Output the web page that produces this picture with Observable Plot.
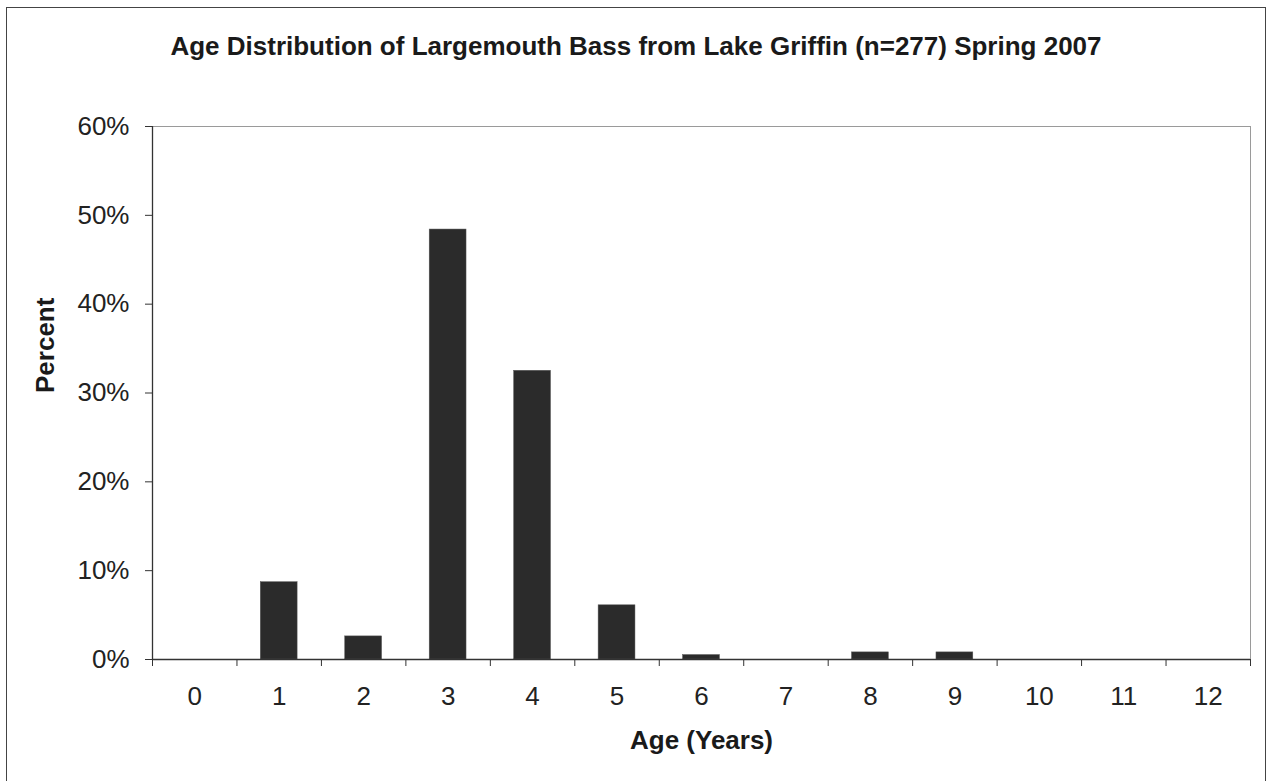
<!DOCTYPE html>
<html>
<head>
<meta charset="utf-8">
<script src="https://cdn.jsdelivr.net/npm/d3@7"></script>
<script src="https://cdn.jsdelivr.net/npm/@observablehq/plot@0.6"></script>
<style>
  html, body { margin: 0; padding: 0; background: #fff; }
  #wrap { position: relative; width: 1268px; height: 781px; overflow: hidden; font-family: "Liberation Sans", Arial, sans-serif; }
  #border { position: absolute; left: 6px; top: 7px; width: 1260px; height: 800px; border: 1px solid #444; box-sizing: border-box; }
  #title { position: absolute; left: 0; width: 1272px; top: 31px; line-height: 30px; text-align: center; font-weight: bold; font-size: 26px; color: #1a1a1a; white-space: nowrap; }
  #chart { position: absolute; left: 0; top: 0; }
</style>
</head>
<body>
<div id="wrap">
  <div id="border"></div>
  <div id="title">Age Distribution of Largemouth Bass from Lake Griffin (n=277) Spring 2007</div>
  <div id="chart"></div>
</div>
<script>
const ages = [0, 1, 2, 3, 4, 5, 6, 7, 8, 9, 10, 11, 12];
const percents = [0, 8.7, 2.6, 48.4, 32.5, 6.1, 0.5, 0, 0.8, 0.8, 0, 0, 0];
const yTicks = [0, 10, 20, 30, 40, 50, 60];
const xTitle = "Age (Years)";
const yTitle = "Percent";

const data = ages.map((a, i) => ({age: a, pct: percents[i] / 100}));
const boundaries = [ages[0] - 0.5, ...ages.map(a => a + 0.5)];
const halfBar = 0.218;

const plot = Plot.plot({
  width: 1268,
  height: 781,
  marginLeft: 152,
  marginRight: 18,
  marginTop: 126,
  marginBottom: 122,
  style: {fontFamily: "Liberation Sans, Arial, sans-serif", background: "transparent", color: "#222"},
  x: {type: "linear", domain: [ages[0] - 0.5, ages[ages.length - 1] + 0.5]},
  y: {domain: [0, 0.6]},
  marks: [
    Plot.frame({stroke: "#9a9a9a", strokeWidth: 1}),
    Plot.rectY(data, {x1: d => d.age - halfBar, x2: d => d.age + halfBar, y: "pct", fill: "#2b2b2b", stroke: "#555", strokeWidth: 0.5}),
    Plot.axisY(yTicks.map(t => t / 100), {tickFormat: d3.format(".0%"), tickSize: 7, tickPadding: 16, fontSize: 26, label: null, stroke: "#333"}),
    Plot.axisX(boundaries, {tickFormat: () => "", tickSize: 7, label: null, stroke: "#333"}),
    Plot.axisX(ages, {tickSize: 0, tickPadding: 27, fontSize: 26, label: null, tickFormat: d => String(d)}),
    Plot.ruleX([ages[0] - 0.5], {stroke: "#333", strokeWidth: 1.3}),
    Plot.ruleY([0], {stroke: "#333", strokeWidth: 1.3}),
    Plot.text([yTitle], {frameAnchor: "left", dx: -107, rotate: -90, fontWeight: "bold", fontSize: 26, fill: "#1a1a1a", text: d => d}),
    Plot.text([xTitle], {frameAnchor: "bottom", dy: 89, fontWeight: "bold", fontSize: 26, fill: "#1a1a1a", text: d => d})
  ]
});
document.getElementById("chart").appendChild(plot);
</script>
</body>
</html>
